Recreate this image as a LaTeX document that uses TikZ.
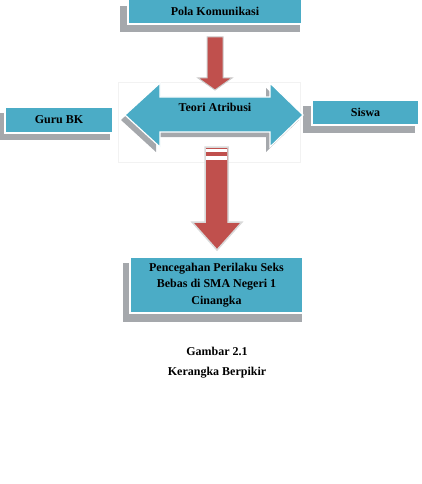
\documentclass[tikz,border=0pt]{standalone}
\usepackage{fontspec}
\setmainfont{Liberation Serif}
\definecolor{boxblue}{RGB}{75,172,198}
\definecolor{shadowgray}{RGB}{165,168,172}
\definecolor{arrowred}{RGB}{192,80,77}
\begin{document}
\begin{tikzpicture}[x=1pt,y=-1pt,
  bluebox/.style={fill=boxblue, draw=white, line width=1.2pt, inner sep=0pt, align=center,
    font=\bfseries\fontsize{12}{16.5}\selectfont},
  shadowbox/.style={fill=shadowgray, draw=none},
  redarrow/.style={fill=arrowred, draw=black!20, line width=1pt},
  bigarrow/.style={fill=boxblue, draw=white, line width=1.2pt},
  lbl/.style={font=\bfseries\fontsize{12}{14}\selectfont, inner sep=0pt}
]
\useasboundingbox (0,0) rectangle (422,484);

% shadows
\fill[shadowgray] (120,6) rectangle (300,32);
\fill[shadowgray] (0,113) rectangle (110,140);
\fill[shadowgray] (303,106) rectangle (415,133);
\fill[shadowgray] (123,263) rectangle (302,322);

% boxes
\node[bluebox, minimum width=174pt, minimum height=26pt] (pola) at (215,11) {Pola Komunikasi};
\node[bluebox, minimum width=108pt, minimum height=26pt] (guru) at (59,120) {Guru BK};
\node[bluebox, minimum width=107pt, minimum height=25pt] (siswa) at (365.5,112.5) {Siswa};
\node[bluebox, minimum width=173pt, minimum height=56pt] (cegah) at (216.5,285)
  {Pencegahan Perilaku Seks\\Bebas di SMA Negeri 1\\Cinangka};

% faint frame behind the double arrow
\draw[black!5, line width=0.6pt] (118,82) rectangle (300,162);

% double arrow shadow and arrow
\fill[shadowgray] (121,120) -- (156,88) -- (156,102) -- (266,102) -- (266,88) -- (299,120)
  -- (266,152) -- (266,137) -- (156,137) -- (156,152) -- cycle;
\draw[bigarrow] (125,115) -- (160,83) -- (160,97) -- (270,97) -- (270,83) -- (303,115)
  -- (270,147) -- (270,132) -- (160,132) -- (160,147) -- cycle;
\node[lbl] (teori) at (215,107) {Teori Atribusi};

% red arrow from Pola Komunikasi
\draw[redarrow] (207,37) -- (223,37) -- (223,78) -- (232,78) -- (215,90) -- (198,78) -- (207,78) -- cycle;

% red arrow to Pencegahan
\draw[redarrow, draw=black!15, line width=1.5pt] (205,147) -- (228,147) -- (228,222) -- (242,222)
  -- (217,250) -- (192,222) -- (205,222) -- cycle;
\fill[white] (206,149) rectangle (227,152);
\fill[white] (206,156) rectangle (227,160);

% caption
\node[lbl] (cap1) at (217,351) {Gambar 2.1};
\node[lbl] (cap2) at (217,373) {Kerangka Berpikir};
\end{tikzpicture}
\end{document}
